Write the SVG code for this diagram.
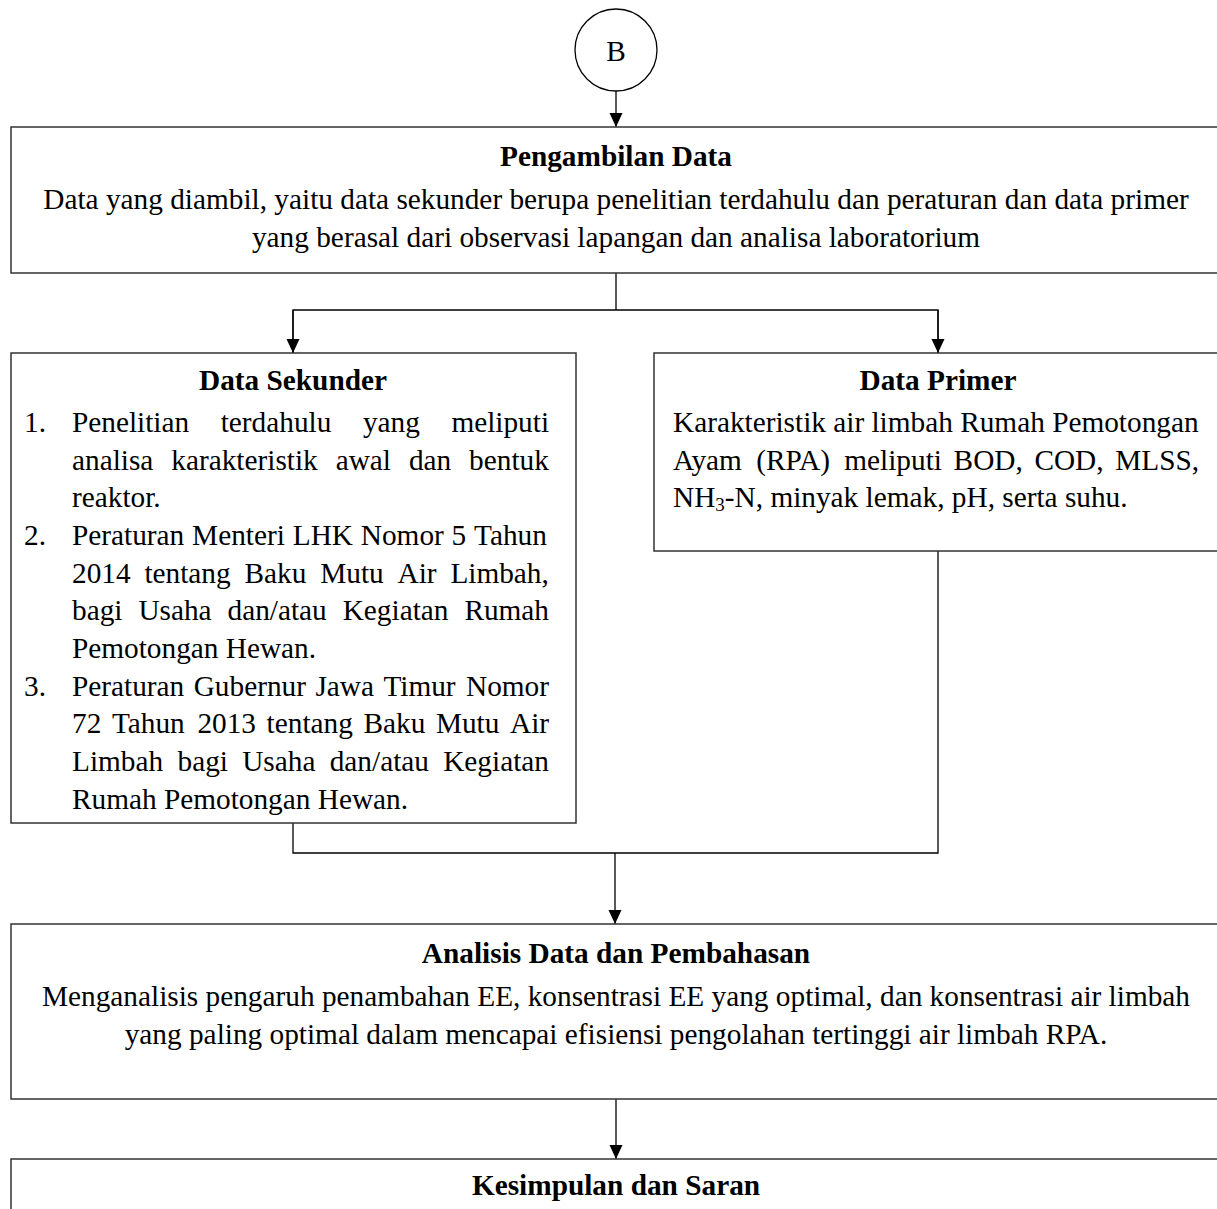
<svg xmlns="http://www.w3.org/2000/svg" width="1217" height="1209" viewBox="0 0 1217 1209">
<style>
  .box { fill: #ffffff; stroke: #333333; stroke-width: 1.5; }
  .con { fill: none; stroke: #000000; stroke-width: 1.3; }
  text { font-family: "Liberation Serif", "Times New Roman", serif; font-size: 29.3px; fill: #000000; }
  .t { font-weight: bold; text-anchor: middle; }
  .c { text-anchor: middle; }
</style>
<defs>
  <marker id="ah" markerWidth="14" markerHeight="14" refX="14" refY="7" orient="auto" markerUnits="userSpaceOnUse">
    <path d="M0,0.5 L14,7 L0,13.5 z" fill="#000000"/>
  </marker>
</defs>
<rect x="0" y="0" width="1217" height="1209" fill="#ffffff"/>

<g id="connectors">
  <line class="con" x1="616" y1="91" x2="616" y2="127" marker-end="url(#ah)"/>
  <polyline class="con" points="616,273 616,310"/>
  <polyline class="con" points="293,353 293,310 938,310 938,353"/>
  <line class="con" x1="293" y1="310" x2="293" y2="353" marker-end="url(#ah)"/>
  <line class="con" x1="938" y1="310" x2="938" y2="353" marker-end="url(#ah)"/>
  <polyline class="con" points="293,823 293,853 938,853 938,551"/>
  <line class="con" x1="615" y1="853" x2="615" y2="924" marker-end="url(#ah)"/>
  <line class="con" x1="616" y1="1099" x2="616" y2="1159" marker-end="url(#ah)"/>
</g>

<g id="node-b">
  <circle cx="616" cy="50" r="41" fill="#ffffff" stroke="#000000" stroke-width="1.3"/>
  <text class="c" x="616" y="61">B</text>
</g>

<g id="node-pengambilan">
  <rect class="box" x="11" y="127" width="1212" height="146"/>
  <text class="t" x="616" y="166">Pengambilan Data</text>
  <text class="c" x="616" y="209">Data yang diambil, yaitu data sekunder berupa penelitian terdahulu dan peraturan dan data primer</text>
  <text class="c" x="616" y="247">yang berasal dari observasi lapangan dan analisa laboratorium</text>
</g>

<g id="node-sekunder">
  <rect class="box" x="11" y="353" width="565" height="470"/>
  <text class="t" x="293" y="390">Data Sekunder</text>
  <text x="24" y="432">1.</text>
  <text y="432"><tspan x="72">Penelitian</tspan><tspan x="220.7">terdahulu</tspan><tspan x="362.9">yang</tspan><tspan x="451.4">meliputi</tspan></text>
  <text y="470"><tspan x="72">analisa</tspan><tspan x="171.3">karakteristik</tspan><tspan x="335.7">awal</tspan><tspan x="408.9">dan</tspan><tspan x="469.1">bentuk</tspan></text>
  <text x="72" y="507">reaktor.</text>
  <text x="24" y="545">2.</text>
  <text y="545"><tspan x="72">Peraturan</tspan><tspan x="192.1">Menteri</tspan><tspan x="292.8">LHK</tspan><tspan x="360.8">Nomor</tspan><tspan x="451.6">5</tspan><tspan x="474.1">Tahun</tspan></text>
  <text y="583"><tspan x="72">2014</tspan><tspan x="144.4">tentang</tspan><tspan x="244.5">Baku</tspan><tspan x="320.2">Mutu</tspan><tspan x="397.5">Air</tspan><tspan x="450.4">Limbah,</tspan></text>
  <text y="620"><tspan x="72">bagi</tspan><tspan x="138.4">Usaha</tspan><tspan x="227.5">dan/atau</tspan><tspan x="342.7">Kegiatan</tspan><tspan x="464.4">Rumah</tspan></text>
  <text x="72" y="658">Pemotongan Hewan.</text>
  <text x="24" y="696">3.</text>
  <text y="696"><tspan x="72">Peraturan</tspan><tspan x="193.7">Gubernur</tspan><tspan x="315.4">Jawa</tspan><tspan x="383.4">Timur</tspan><tspan x="466">Nomor</tspan></text>
  <text y="733"><tspan x="72">72</tspan><tspan x="111.9">Tahun</tspan><tspan x="197.4">2013</tspan><tspan x="266.6">tentang</tspan><tspan x="363.5">Baku</tspan><tspan x="435.9">Mutu</tspan><tspan x="510">Air</tspan></text>
  <text y="771"><tspan x="72">Limbah</tspan><tspan x="177.5">bagi</tspan><tspan x="242.2">Usaha</tspan><tspan x="329.7">dan/atau</tspan><tspan x="443.2">Kegiatan</tspan></text>
  <text x="72" y="809">Rumah Pemotongan Hewan.</text>
</g>

<g id="node-primer">
  <rect class="box" x="654" y="353" width="569" height="198"/>
  <text class="t" x="938" y="390">Data Primer</text>
  <text x="673" y="432">Karakteristik air limbah Rumah Pemotongan</text>
  <text y="470"><tspan x="673">Ayam</tspan><tspan x="756.2">(RPA)</tspan><tspan x="844.3">meliputi</tspan><tspan x="953.6">BOD,</tspan><tspan x="1034.4">COD,</tspan><tspan x="1115.2">MLSS,</tspan></text>
  <text x="673" y="507">NH<tspan font-size="19px" dy="4">3</tspan><tspan dy="-4">-N, minyak lemak, pH, serta suhu.</tspan></text>
</g>

<g id="node-analisis">
  <rect class="box" x="11" y="924" width="1212" height="175"/>
  <text class="t" x="616" y="963">Analisis Data dan Pembahasan</text>
  <text class="c" x="616" y="1006">Menganalisis pengaruh penambahan EE, konsentrasi EE yang optimal, dan konsentrasi air limbah</text>
  <text class="c" x="616" y="1044">yang paling optimal dalam mencapai efisiensi pengolahan tertinggi air limbah RPA.</text>
</g>

<g id="node-kesimpulan">
  <rect class="box" x="11" y="1159" width="1212" height="80"/>
  <text class="t" x="616" y="1195">Kesimpulan dan Saran</text>
</g>
</svg>
